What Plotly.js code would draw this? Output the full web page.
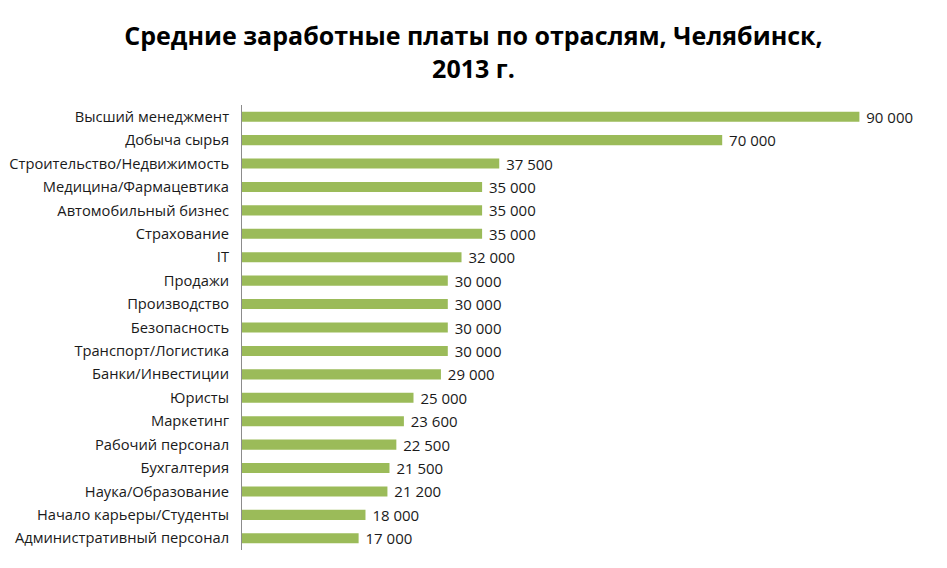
<!DOCTYPE html>
<html>
<head>
<meta charset="utf-8">
<script src="https://cdn.plot.ly/plotly-3.0.1.min.js"></script>
<style>html,body{margin:0;padding:0;background:#fff}#chart{width:947px;height:568px}</style>
</head>
<body>
<div id="chart"></div>
<script>
var categories = [
  "Высший менеджмент","Добыча сырья","Строительство/Недвижимость","Медицина/Фармацевтика",
  "Автомобильный бизнес","Страхование","IT","Продажи","Производство","Безопасность",
  "Транспорт/Логистика","Банки/Инвестиции","Юристы","Маркетинг","Рабочий персонал",
  "Бухгалтерия","Наука/Образование","Начало карьеры/Студенты","Административный персонал"
];
var salaries = [90000,70000,37500,35000,35000,35000,32000,30000,30000,30000,30000,29000,25000,23600,22500,21500,21200,18000,17000];

function fmtSp(v){ var s=String(v); return "\u00a0" + s.slice(0,s.length-3)+" "+s.slice(-3); }

var trace = {
  type: 'bar',
  orientation: 'h',
  y: categories,
  x: salaries,
  text: salaries.map(fmtSp),
  textposition: 'outside',
  constraintext: 'none',
  cliponaxis: false,
  outsidetextfont: {family: 'Open Sans, sans-serif', size: 15, color: '#1a1a1a'},
  textfont: {family: 'Open Sans, sans-serif', size: 15, color: '#1a1a1a'},
  marker: {color: '#9BBB59'},
  hoverinfo: 'none'
};

var layout = {
  width: 947, height: 568,
  paper_bgcolor: '#fff', plot_bgcolor: '#fff',
  margin: {l: 242, r: 19, t: 105, b: 18},
  bargap: 0.57,
  showlegend: false,
  title: {
    text: '<b>Средние заработные платы по отраслям, Челябинск,<br>2013 г.</b>',
    x: 0.5, xanchor: 'center', yref: 'container', y: 0.92, yanchor: 'middle',
    font: {family: 'Open Sans, sans-serif', size: 25, color: '#000'}
  },
  xaxis: {range: [0, 100000], visible: false, showgrid: false, zeroline: false, fixedrange: true},
  yaxis: {
    autorange: 'reversed', type: 'category',
    showline: true, linecolor: '#8c8c8c', linewidth: 1,
    ticks: '', showgrid: false, zeroline: false,
    ticklabelstandoff: 9,
    tickfont: {family: 'Open Sans, sans-serif', size: 14.7, color: '#1a1a1a'}
  }
};

Plotly.newPlot('chart', [trace], layout, {displayModeBar: false, staticPlot: true});
</script>
</body>
</html>
